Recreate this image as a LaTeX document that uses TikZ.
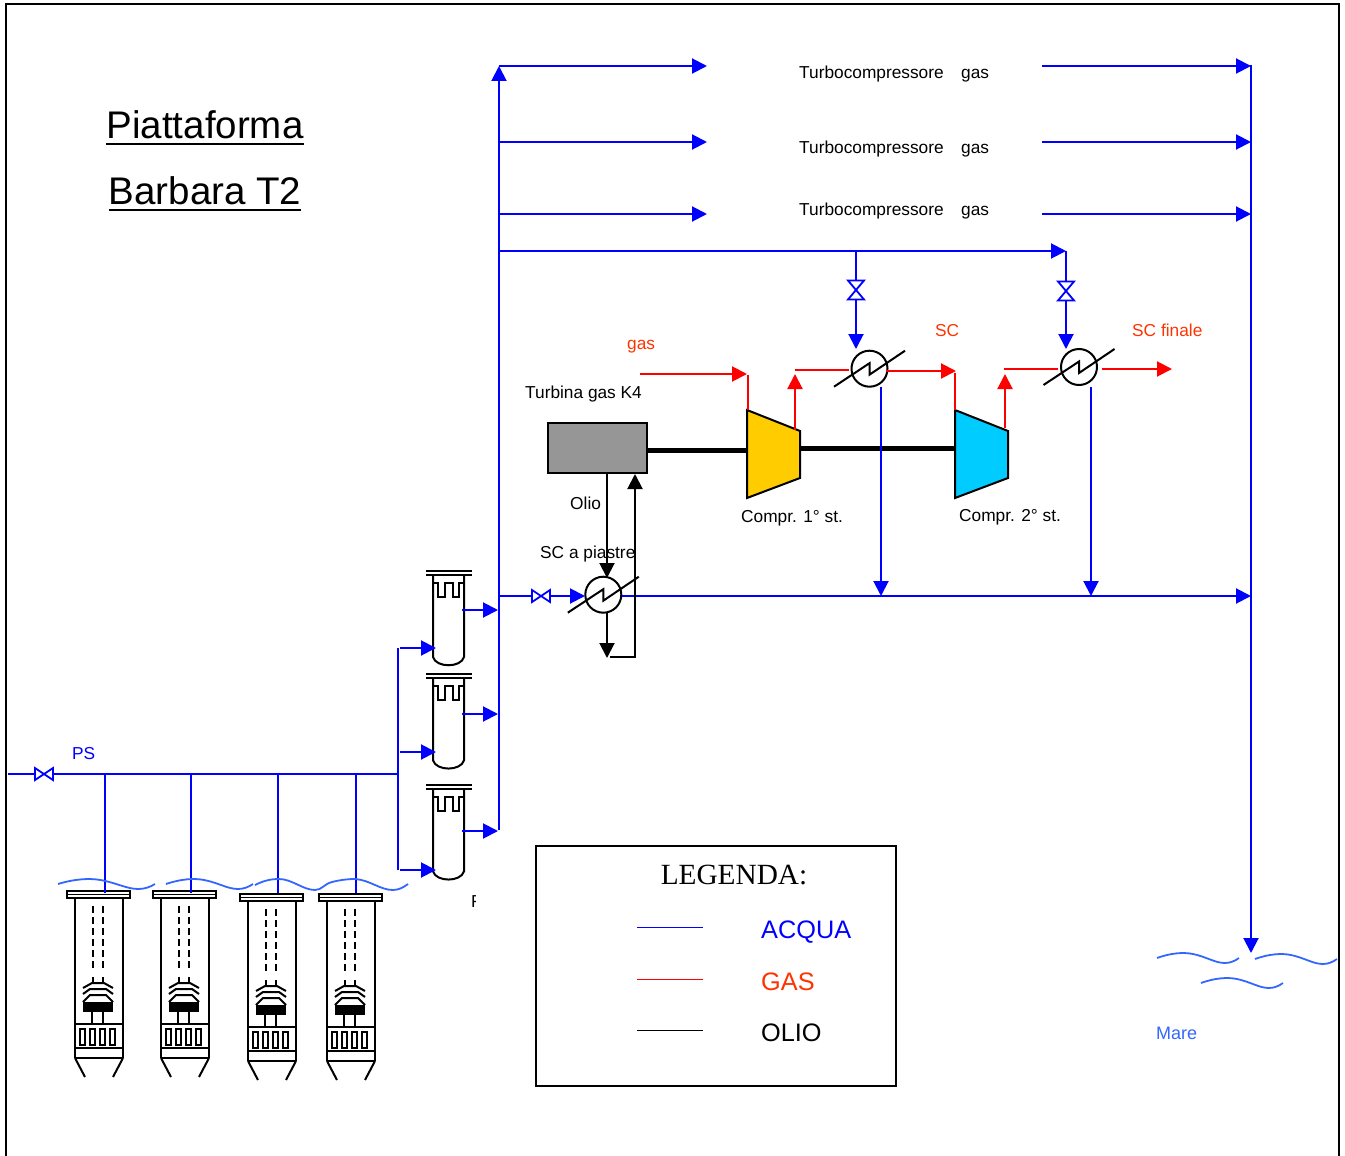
\documentclass[tikz,border=0pt]{standalone}
\usepackage{fontspec}
\setmainfont{Liberation Sans}
\newfontfamily\legendfont{Liberation Serif}
\usetikzlibrary{arrows.meta}
\definecolor{wblue}{HTML}{0000FF}
\definecolor{lblue}{HTML}{3366FF}
\definecolor{gasred}{HTML}{FF0000}
\definecolor{lblred}{HTML}{FF3300}
\definecolor{compone}{HTML}{FFCC00}
\definecolor{comptwo}{HTML}{00CCFF}
\definecolor{turbgray}{HTML}{969696}
\tikzset{
  wl/.style={wblue,line width=2pt},
  wa/.style={wl,-{Triangle[length=15pt,width=15pt]}},
  rl/.style={gasred,line width=2pt},
  ra/.style={rl,-{Triangle[length=15pt,width=15pt]}},
  ka/.style={black,line width=2pt,-{Triangle[length=15pt,width=15pt]}},
  txt/.style={anchor=base west,inner sep=0,font=\fontsize{17.3pt}{20pt}\selectfont},
  hxbox/.style={circle,draw=black,line width=2pt,minimum size=36pt,inner sep=0},
  wavec/.style={lblue,line width=1.8pt},
  shaft/.style={black,line width=5pt},
  eq/.style={black,line width=2pt},
  valvebox/.style={inner sep=0,outer sep=0},
  thinleg/.style={line width=0.8pt},
  bigtxt/.style={txt,font=\fontsize{25.3pt}{30pt}\selectfont},
  titletxt/.style={anchor=base,inner sep=0,font=\fontsize{38.5pt}{44pt}\selectfont}
}
\newcommand{\myhx}[3]{%
  \node[hxbox] (#1) at (#2,#3) {};
  \draw[black,line width=2pt] ([shift={(-35.5,18)}]#1.center) -- ([shift={(0,-5.5)}]#1.center) -- ([shift={(0,6)}]#1.center) -- ([shift={(35.5,-18)}]#1.center);
}
\newcommand{\myvalveH}[3]{%
  \node[valvebox,minimum width=18pt,minimum height=12pt] (#1) at (#2,#3) {};
  \draw[wblue,line width=1.8pt] (#1.north west) -- (#1.south east) -- (#1.north east) -- (#1.south west) -- cycle;
}
\newcommand{\myvalveV}[3]{%
  \node[valvebox,minimum width=16pt,minimum height=19pt] (#1) at (#2,#3) {};
  \draw[wblue,line width=1.8pt] (#1.north west) -- (#1.south east) -- (#1.south west) -- (#1.north east) -- cycle;
}
\newcommand{\myseparator}[1]{%
  \begin{scope}[yshift=-#1pt]
    \draw[black,line width=2pt] (426,571) -- (472,571) (426,575) -- (472,575);
    \draw[eq] (433,575) -- (433,657) .. controls (436,668) and (461,668) .. (464,657) -- (464,575);
    \draw[eq] (433,583) -- (438,583) -- (438,597) -- (445,597) -- (445,583) -- (453,583) -- (453,597) -- (459,597) -- (459,583) -- (464,583);
  \end{scope}
}
\newcommand{\mywell}[2]{%
  \begin{scope}[xshift=#1pt,yshift=-#2pt]
    \draw[eq,line width=1.8pt] (67,891) rectangle (130,898);
    \draw[eq,line width=1.4pt] (67,894.5) -- (130,894.5);
    \draw[eq] (75,898) -- (75,1058) (123,898) -- (123,1058);
    \draw[eq,dash pattern=on 7pt off 4pt] (93,906) -- (93,970) (103,906) -- (103,970);
    \draw[eq] (93,977) -- (93,983) (103,983) -- (103,977);
    \draw[eq] (83,988) -- (92,983) -- (104,983) -- (113,988);
    \draw[eq] (83,994) -- (90,989) -- (106,989) -- (113,994);
    \draw[eq] (83,1002) -- (90,995) -- (106,995) -- (113,1002);
    \fill[black] (83,1002) rectangle (113,1012);
    \draw[eq] (92,1012) -- (92,1024) (103,1012) -- (103,1024);
    \draw[eq] (75,1024) -- (123,1024) (75,1048) -- (123,1048) (75,1058) -- (123,1058);
    \foreach \q in {80,90,100,110} \draw[black,line width=1.4pt] (\q,1029) rectangle +(5,16);
    \draw[eq] (75,1058) -- (85,1077) (123,1058) -- (113,1077);
  \end{scope}
}
% wave: start x, start y baseline, width (reference width 82)
\newcommand{\mywave}[3]{%
  \draw[wavec,shift={(#1,#2)},xscale=#3/82] (0,5) .. controls (14,0) and (26,-1) .. (36,1) .. controls (50,4) and (58,10) .. (68,10) .. controls (73,10) and (78,8) .. (82,5);
}
\begin{document}
\begin{tikzpicture}[x=1pt,y=-1pt]
\useasboundingbox (0,0) rectangle (1345,1156);
% frame
\draw[black,line width=2pt] (6,1156) -- (6,4) -- (1339,4) -- (1339,1156);
% title
\node[titletxt] (title1) at (205,138) {Piattaforma};
\node[titletxt] (title2) at (205,204) {Barbara T2};
\draw[black,line width=2.4pt] (title1.base west) ++(0,6) -- ([yshift=-6pt]title1.base east);
\draw[black,line width=2.4pt] (title2.base west) ++(0,6) -- ([yshift=-6pt]title2.base east);
% coordinates
\coordinate (feed) at (8,774);
\coordinate (feedend) at (397,774);
\coordinate (riserT) at (398,648);
\coordinate (riserB) at (398,870);
\coordinate (mainB) at (499,830);
\coordinate (mainT) at (499,66);
\coordinate (colT) at (1251,65);
\coordinate (seaTip) at (1251,953);
% turbocompressor rows
\foreach \n/\yy/\ta in {a/66/78,b/142/153,c/214/215}{
  \coordinate (l\n) at (499,\yy);
  \coordinate (lt\n) at (707,\yy);
  \coordinate (r\n) at (1042,\yy);
  \coordinate (rt\n) at (1251,\yy);
  \draw[wa] (l\n) -- (lt\n);
  \draw[wa] (r\n) -- (rt\n);
  \node[txt] (tc\n) at (799,\ta) {Turbocompressore};
  \node[txt] (tg\n) at (961,\ta) {gas};
}
% water mains
\draw[wa] (mainB) -- (mainT);
\draw[wa] (colT) -- (seaTip);
\coordinate (cw) at (499,251);
\coordinate (cwE) at (1066,251);
\draw[wa] (cw) -- (cwE);
% feed line, valve
\myvalveH{vps}{44}{774}
\draw[wl] (feed) -- (vps.west) (vps.east) -- (feedend);
\node[txt,text=wblue] (ps) at (72,759) {PS};
\draw[wl] (riserT) -- (riserB);
% wells
\mywell{0}{0}
\mywell{86}{0}
\mywell{173}{3}
\mywell{252}{3}
\foreach \n/\xx in {1/105,2/191,3/278,4/356}{
  \coordinate (wt\n) at (\xx,774);
  \coordinate (wb\n) at (\xx,893);
  \draw[wl] (wt\n) -- (wb\n);
}
\mywave{58}{879}{97}
\mywave{166}{879}{87}
\draw[wavec] (255,885) .. controls (263,881) and (270,879) .. (279,879) .. controls (292,879) and (303,890) .. (315,890) .. controls (322,890) and (324,884) .. (332,882) .. controls (340,880) and (347,879) .. (355,879) .. controls (370,880) and (380,890) .. (393,890) .. controls (399,890) and (404,887) .. (408,884);
% separators
\myseparator{0}
\myseparator{103.3}
\myseparator{214.3}
\foreach \n/\yin/\yout in {a/648/610,b/752/714,c/870/831}{
  \coordinate (si\n) at (400,\yin);
  \coordinate (sj\n) at (436,\yin);
  \coordinate (so\n) at (462,\yout);
  \coordinate (sp\n) at (498,\yout);
  \draw[wa] (si\n) -- (sj\n);
  \draw[wa] (so\n) -- (sp\n);
}
\begin{scope}
  \clip (465,890) rectangle (475.5,912);
  \node[txt] (fcut) at (471,907) {F};
\end{scope}
% turbine and compressors
\node[draw=black,fill=turbgray,line width=2pt,minimum width=99pt,minimum height=50pt,inner sep=0] (turb) at (597.5,448) {};
\draw[black,line width=2pt,fill=compone] (747,410) -- (800,431) -- (800,478) -- (747,498) -- cycle;
\draw[black,line width=2pt,fill=comptwo] (955,410) -- (1008,431) -- (1008,478) -- (955,498) -- cycle;
\coordinate (c1in) at (747,450);
\coordinate (c1out) at (800,448);
\coordinate (c2in) at (955,448);
\draw[shaft] (turb.east |- c1in) -- (c1in);
\draw[shaft] (c1out) -- (c2in);
\node[txt] (lt) at (525,398) {Turbina gas K4};
\node[txt] (lc1) at (741,522) {Compr. 1° st.};
\node[txt] (lc2) at (959,521) {Compr. 2° st.};
% heat exchangers
\myhx{hx1}{869.5}{368.7}
\myhx{hx2}{1079}{367}
\myhx{hx3}{603.3}{594.7}
% valves to hx
\myvalveV{v1}{856}{290}
\myvalveV{v2}{1066}{291}
\coordinate (j1) at (856,251);
\coordinate (t1) at (856,349);
\coordinate (t2) at (1066,349);
\draw[wl] (j1) -- (v1.north);
\draw[wa] (v1.south) -- (t1);
\draw[wl] (cwE) -- (v2.north);
\draw[wa] (v2.south) -- (t2);
% cooling return
\myvalveH{v3}{541}{596}
\coordinate (m3) at (499,596);
\coordinate (hx3in) at (585,596);
\coordinate (ret) at (622,596);
\coordinate (retE) at (1251,596);
\draw[wl] (m3) -- (v3.west);
\draw[wa] (v3.east) -- (hx3in);
\draw[wa] (ret) -- (retE);
\coordinate (o1) at (881,387);
\coordinate (o1e) at (881,596);
\coordinate (o2) at (1091,387);
\coordinate (o2e) at (1091,596);
\draw[wa] (o1) -- (o1e);
\draw[wa] (o2) -- (o2e);
% gas
\coordinate (g0) at (640,374);
\coordinate (g1) at (747,374);
\coordinate (g2) at (748,375);
\coordinate (g3) at (748,410);
\draw[ra] (g0) -- (g1);
\draw[rl] (g2) -- (g3);
\coordinate (g4) at (795,430);
\coordinate (g5) at (795,374);
\coordinate (g6) at (795,370);
\coordinate (g7) at (849,370);
\coordinate (g8) at (886,371);
\coordinate (g9) at (956,371);
\coordinate (g10) at (955,373);
\coordinate (g11) at (955,410);
\coordinate (g12) at (1005,428);
\coordinate (g13) at (1005,374);
\coordinate (g14) at (1004,369);
\coordinate (g15) at (1058,369);
\coordinate (g16) at (1102,369);
\coordinate (g17) at (1172,369);
\draw[ra] (g4) -- (g5);
\draw[rl] (g6) -- (g7);
\draw[ra] (g8) -- (g9);
\draw[rl] (g10) -- (g11);
\draw[ra] (g12) -- (g13);
\draw[rl] (g14) -- (g15);
\draw[ra] (g16) -- (g17);
\node[txt,text=lblred] (lgas) at (627,349.5) {gas};
\node[txt,text=lblred] (lsc) at (935,336) {SC};
\node[txt,text=lblred] (lscf) at (1132,336) {SC finale};
% oil
\coordinate (k1) at (607,473);
\coordinate (k2) at (607,578);
\coordinate (k3) at (607,613);
\coordinate (k4) at (607,658);
\coordinate (k5) at (610,657);
\coordinate (k6) at (635,657);
\coordinate (k7) at (635,474);
\draw[ka] (k1) -- (k2);
\draw[ka] (k3) -- (k4);
\draw[ka] (k5) -- (k6) -- (k7);
\node[txt] (lolio) at (570,509) {Olio};
\node[txt] (lsca) at (540,558) {SC a piastre};
% sea
\mywave{1157}{953}{82}
\mywave{1255}{954}{82}
\mywave{1201}{978}{82}
\node[txt,text=lblue,font=\fontsize{18pt}{20pt}\selectfont] (mare) at (1156,1039) {Mare};
% legend
\node[draw=black,line width=2pt,minimum width=360pt,minimum height=240pt,inner sep=0] (legend) at (716,966) {};
\node[anchor=base,inner sep=0,font=\legendfont\fontsize{29.3pt}{32pt}\selectfont] (legt) at (734,884) {LEGENDA:};
\coordinate (lsa) at (637,927.5); \coordinate (lea) at (703,927.5);
\coordinate (lsb) at (637,979.5); \coordinate (leb) at (703,979.5);
\coordinate (lsc0) at (637,1030.5); \coordinate (lec0) at (703,1030.5);
\draw[thinleg,wblue] (lsa) -- (lea);
\draw[thinleg,gasred] (lsb) -- (leb);
\draw[thinleg,black] (lsc0) -- (lec0);
\node[bigtxt,text=wblue] (la) at (761,938) {ACQUA};
\node[bigtxt,text=lblred] (lb) at (761,990) {GAS};
\node[bigtxt,text=black] (lc) at (761,1041) {OLIO};
\end{tikzpicture}
\end{document}
